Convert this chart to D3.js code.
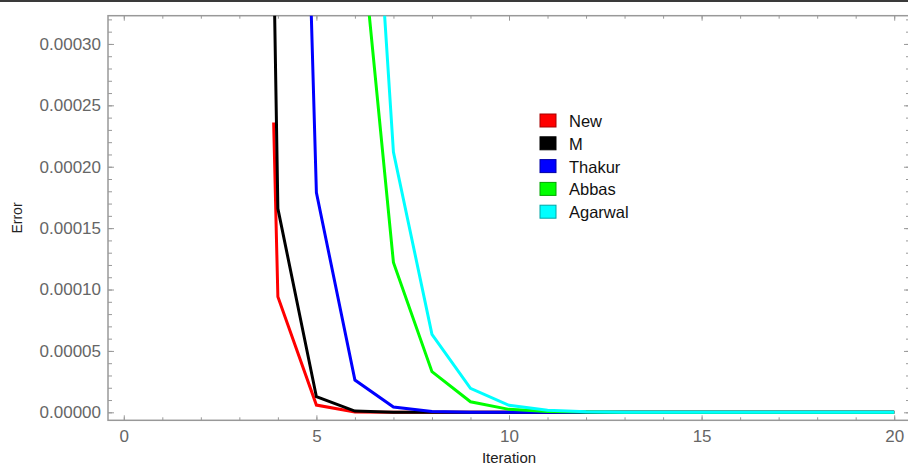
<!DOCTYPE html>
<html>
<head>
<meta charset="utf-8">
<script src="https://cdn.jsdelivr.net/npm/d3@7"></script>
<style>
  body { margin: 0; background: #fff; }
  svg { display: block; font-family: "Liberation Sans", Arial, sans-serif; }
</style>
</head>
<body>
<div id="chart"></div>
<script>
// Error per iteration: [iteration, error]
var seriesNames = ["New", "M", "Thakur", "Abbas", "Agarwal"];
var seriesColors = ["#ff0000", "#000000", "#0000ff", "#00ff00", "#00ffff"];

var errNew = [[3.89, 0.000236], [4, 0.0000941], [5, 0.0000059], [6, 0.0000003], [7, 0], [8, 0], [9, 0], [10, 0],
  [11, 0], [12, 0], [13, 0], [14, 0], [15, 0], [16, 0], [17, 0], [18, 0], [19, 0], [20, 0]];
var errM = [[3, 0.00205], [4, 0.000166], [5, 0.0000127], [6, 0.000001], [7, 0.0000001], [8, 0], [9, 0], [10, 0],
  [11, 0], [12, 0], [13, 0], [14, 0], [15, 0], [16, 0], [17, 0], [18, 0], [19, 0], [20, 0]];
var errThakur = [[4, 0.00127], [5, 0.000179], [6, 0.0000263], [7, 0.0000043], [8, 0.0000007], [9, 0.0000001], [10, 0],
  [11, 0], [12, 0], [13, 0], [14, 0], [15, 0], [16, 0], [17, 0], [18, 0], [19, 0], [20, 0]];
var errAbbas = [[6, 0.000443], [7, 0.000122], [8, 0.0000331], [9, 0.0000086], [10, 0.0000024], [11, 0.0000006],
  [12, 0.0000002], [13, 0], [14, 0], [15, 0], [16, 0], [17, 0], [18, 0], [19, 0], [20, 0]];
var errAgarwal = [[6, 0.000697], [7, 0.000212], [8, 0.0000635], [9, 0.0000195], [10, 0.0000057], [11, 0.0000017],
  [12, 0.0000005], [13, 0.0000001], [14, 0], [15, 0], [16, 0], [17, 0], [18, 0], [19, 0], [20, 0]];

var xTicks = [0, 5, 10, 15, 20];
var yTicks = [0, 0.00005, 0.0001, 0.00015, 0.0002, 0.00025, 0.0003];

function drawChart() {
    var w = 908, h = 465;
    var left = 108, right = 910, top = 15.7, bottom = 420.3;

    var series = seriesNames.map((n, i) => ({ name: n, color: seriesColors[i] }));
    series[0].values = errNew;
    series[1].values = errM;
    series[2].values = errThakur;
    series[3].values = errAbbas;
    series[4].values = errAgarwal;

    var svg = d3.select("#chart").append("svg")
        .attr("width", w)
        .attr("height", h);

    // dark strip at very top of the picture
    svg.append("rect").attr("x", 0).attr("y", 0).attr("width", w).attr("height", 2).attr("fill", "#3a3a3a");

    var xScale = d3.scaleLinear().domain([-0.41, 20.41]).range([left, right]);
    var yScale = d3.scaleLinear().domain([-0.0000065, 0.000323]).range([bottom, top]);

    var tickCol = "#999";
    var labelCol = "#666";

    // minor ticks
    var xMinor = d3.range(0, 21);
    var yMinor = d3.range(0, 33).map(i => i * 0.00001);

    function styleAxis(g) {
        g.select(".domain").remove();
        g.selectAll(".tick line").attr("stroke", tickCol).attr("stroke-width", 1);
        g.selectAll(".tick text").attr("fill", labelCol).style("font-size", "17px");
    }

    // bottom
    svg.append("g").attr("transform", `translate(0,${bottom})`)
        .call(d3.axisBottom(xScale).tickValues(xMinor).tickSize(-3).tickFormat(""))
        .call(styleAxis);
    svg.append("g").attr("transform", `translate(0,${bottom})`)
        .call(d3.axisBottom(xScale).tickValues(xTicks).tickSize(-5).tickPadding(10).tickFormat(d3.format("d")))
        .call(styleAxis);
    // top
    svg.append("g").attr("transform", `translate(0,${top})`)
        .call(d3.axisTop(xScale).tickValues(xMinor).tickSize(-3).tickFormat(""))
        .call(styleAxis);
    svg.append("g").attr("transform", `translate(0,${top})`)
        .call(d3.axisTop(xScale).tickValues(xTicks).tickSize(-5).tickFormat(""))
        .call(styleAxis);
    // left
    svg.append("g").attr("transform", `translate(${left},0)`)
        .call(d3.axisLeft(yScale).tickValues(yMinor).tickSize(-4).tickFormat(""))
        .call(styleAxis);
    svg.append("g").attr("transform", `translate(${left},0)`)
        .call(d3.axisLeft(yScale).tickValues(yTicks).tickSize(-6).tickPadding(7).tickFormat(d3.format(".5f")))
        .call(styleAxis);
    // right (mostly outside the picture)
    svg.append("g").attr("transform", `translate(${right},0)`)
        .call(d3.axisRight(yScale).tickValues(yMinor).tickSize(-4).tickFormat(""))
        .call(styleAxis);
    svg.append("g").attr("transform", `translate(${right},0)`)
        .call(d3.axisRight(yScale).tickValues(yTicks).tickSize(-6).tickFormat(""))
        .call(styleAxis);

    // frame
    svg.append("rect")
        .attr("x", left).attr("y", top)
        .attr("width", right - left).attr("height", bottom - top)
        .attr("fill", "none").attr("stroke", tickCol).attr("stroke-width", 1.5);

    svg.append("clipPath").attr("id", "plotClip")
        .append("rect")
        .attr("x", left).attr("y", top)
        .attr("width", right - left).attr("height", bottom - top);

    var line = d3.line()
        .x(d => xScale(d[0]))
        .y(d => yScale(d[1]));

    svg.append("g").attr("clip-path", "url(#plotClip)")
        .selectAll("path")
        .data(series)
        .enter()
        .append("path")
        .attr("fill", "none")
        .attr("stroke", d => d.color)
        .attr("stroke-width", 3)
        .attr("stroke-linejoin", "miter")
        .attr("d", d => line(d.values));

    // legend
    var legend = svg.append("g").attr("transform", "translate(540,114)");
    var rows = legend.selectAll("g")
        .data(series)
        .enter()
        .append("g")
        .attr("transform", (d, i) => `translate(0,${i * 22.8})`);
    rows.append("rect")
        .attr("width", 16).attr("height", 13)
        .attr("fill", d => d.color)
        .attr("stroke", d => d3.color(d.color).darker(1.2))
        .attr("stroke-width", 1);
    rows.append("text")
        .attr("x", 29).attr("y", 13)
        .style("font-size", "16.5px")
        .attr("fill", "#111")
        .text(d => d.name);

    // axis titles
    svg.append("text")
        .attr("x", (left + right) / 2).attr("y", 463)
        .attr("text-anchor", "middle")
        .style("font-size", "15px")
        .attr("fill", "#222")
        .text("Iteration");

    svg.append("text")
        .attr("transform", `translate(22,${(top + bottom) / 2}) rotate(-90)`)
        .attr("text-anchor", "middle")
        .style("font-size", "14px")
        .attr("fill", "#222")
        .text("Error");
}

drawChart();
</script>
</body>
</html>
